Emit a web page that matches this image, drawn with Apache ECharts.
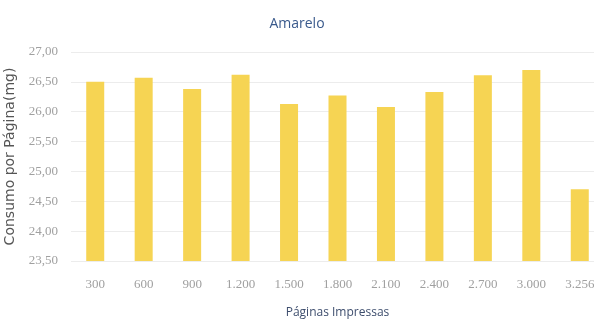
<!DOCTYPE html>
<html>
<head>
<meta charset="utf-8">
<script src="https://cdn.jsdelivr.net/npm/echarts@6/dist/echarts.min.js"></script>
<style>
  html, body { margin: 0; padding: 0; background: #fff; }
  #chart { width: 594px; height: 322px; }
</style>
</head>
<body>
<div id="chart"></div>
<script>
const categories = ['300', '600', '900', '1.200', '1.500', '1.800', '2.100', '2.400', '2.700', '3.000', '3.256'];
const consumo = [26.50, 26.57, 26.38, 26.62, 26.13, 26.27, 26.08, 26.33, 26.61, 26.70, 24.70];

const chart = echarts.init(document.getElementById('chart'));

chart.setOption({
  backgroundColor: '#fff',
  animation: false,
  title: {
    text: 'Amarelo',
    left: 'center',
    top: 12,
    textStyle: {
      color: '#3a5a8c',
      fontSize: 14,
      fontWeight: 'normal',
      fontFamily: 'Open Sans',
    },
  },
  grid: {
    left: 71,
    width: 533,
    top: 52,
    bottom: 61,
    containLabel: false,
    outerBoundsMode: 'none',
  },
  xAxis: {
    type: 'category',
    data: categories,
    name: 'Páginas Impressas',
    nameLocation: 'middle',
    nameGap: 46,
    nameTextStyle: {
      color: '#3d4d6d',
      fontSize: 12,
      fontFamily: 'Open Sans',
    },
    axisLine: { show: false },
    axisTick: { show: false },
    axisLabel: {
      color: '#a0a0a0',
      fontSize: 13,
      fontFamily: 'Liberation Serif',
      margin: 17,
      interval: 0,
    },
  },
  yAxis: {
    type: 'value',
    min: 23.5,
    max: 27,
    interval: 0.5,
    name: 'Consumo por Página(mg)',
    nameLocation: 'middle',
    nameGap: 51,
    nameTextStyle: {
      color: '#555',
      fontSize: 14,
      fontFamily: 'DejaVu Sans',
    },
    axisLine: { show: false },
    axisTick: { show: false },
    axisLabel: {
      color: '#a0a0a0',
      fontSize: 13,
      fontFamily: 'Liberation Serif',
      margin: 13,
      formatter: (v) => v.toFixed(2).replace('.', ','),
    },
    splitLine: {
      lineStyle: { color: '#ececec', width: 1 },
    },
  },
  series: [
    {
      type: 'bar',
      data: consumo,
      barWidth: 18,
      itemStyle: { color: '#f6d453' },
    },
  ],
});
</script>
</body>
</html>
